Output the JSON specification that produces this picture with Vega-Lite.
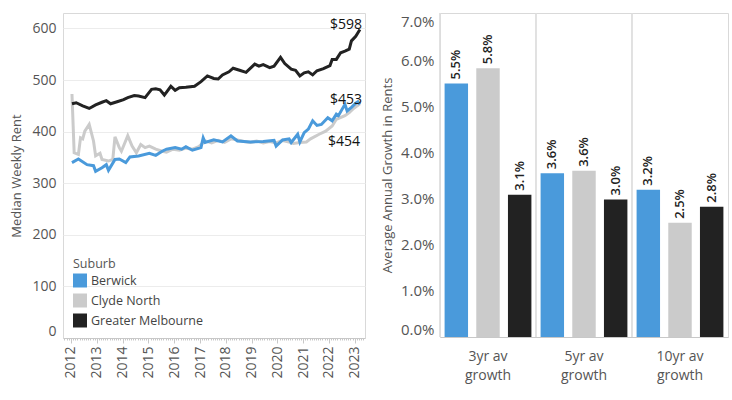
{
  "$schema": "https://vega.github.io/schema/vega-lite/v6.json",
  "padding": {"left": 10, "top": 12, "right": 5, "bottom": 5},
  "background": "white",
  "config": {
    "font": "Open Sans",
    "view": {"stroke": "#d9d9d9"},
    "axis": {"labelColor": "#555", "titleColor": "#555", "titleFontWeight": "normal"}
  },
  "resolve": {"legend": {"color": "independent"}},
  "datasets": {
    "rent": [
      {"suburb": "Berwick", "date": "2012-01-15", "rent": 340},
      {"suburb": "Berwick", "date": "2012-04-15", "rent": 347},
      {"suburb": "Berwick", "date": "2012-08-15", "rent": 336},
      {"suburb": "Berwick", "date": "2012-11-15", "rent": 334},
      {"suburb": "Berwick", "date": "2012-12-15", "rent": 323},
      {"suburb": "Berwick", "date": "2013-03-15", "rent": 330},
      {"suburb": "Berwick", "date": "2013-05-15", "rent": 336},
      {"suburb": "Berwick", "date": "2013-06-15", "rent": 325},
      {"suburb": "Berwick", "date": "2013-09-15", "rent": 346},
      {"suburb": "Berwick", "date": "2013-11-15", "rent": 347},
      {"suburb": "Berwick", "date": "2014-02-15", "rent": 340},
      {"suburb": "Berwick", "date": "2014-04-15", "rent": 351},
      {"suburb": "Berwick", "date": "2014-08-15", "rent": 353},
      {"suburb": "Berwick", "date": "2015-01-15", "rent": 358},
      {"suburb": "Berwick", "date": "2015-04-15", "rent": 354},
      {"suburb": "Berwick", "date": "2015-07-15", "rent": 362},
      {"suburb": "Berwick", "date": "2015-09-15", "rent": 366},
      {"suburb": "Berwick", "date": "2016-01-15", "rent": 369},
      {"suburb": "Berwick", "date": "2016-04-15", "rent": 366},
      {"suburb": "Berwick", "date": "2016-06-15", "rent": 371},
      {"suburb": "Berwick", "date": "2016-09-15", "rent": 364},
      {"suburb": "Berwick", "date": "2017-01-15", "rent": 369},
      {"suburb": "Berwick", "date": "2017-02-15", "rent": 388},
      {"suburb": "Berwick", "date": "2017-03-15", "rent": 379},
      {"suburb": "Berwick", "date": "2017-07-15", "rent": 384},
      {"suburb": "Berwick", "date": "2017-11-15", "rent": 380},
      {"suburb": "Berwick", "date": "2018-03-15", "rent": 392},
      {"suburb": "Berwick", "date": "2018-06-15", "rent": 382},
      {"suburb": "Berwick", "date": "2018-12-15", "rent": 380},
      {"suburb": "Berwick", "date": "2019-06-15", "rent": 381},
      {"suburb": "Berwick", "date": "2019-11-15", "rent": 383},
      {"suburb": "Berwick", "date": "2019-12-15", "rent": 372},
      {"suburb": "Berwick", "date": "2020-03-15", "rent": 384},
      {"suburb": "Berwick", "date": "2020-06-15", "rent": 386},
      {"suburb": "Berwick", "date": "2020-07-15", "rent": 379},
      {"suburb": "Berwick", "date": "2020-10-15", "rent": 395},
      {"suburb": "Berwick", "date": "2020-11-15", "rent": 380},
      {"suburb": "Berwick", "date": "2021-01-15", "rent": 398},
      {"suburb": "Berwick", "date": "2021-03-15", "rent": 405},
      {"suburb": "Berwick", "date": "2021-05-15", "rent": 421},
      {"suburb": "Berwick", "date": "2021-07-15", "rent": 412},
      {"suburb": "Berwick", "date": "2021-09-15", "rent": 414},
      {"suburb": "Berwick", "date": "2021-12-15", "rent": 427},
      {"suburb": "Berwick", "date": "2022-02-15", "rent": 421},
      {"suburb": "Berwick", "date": "2022-04-15", "rent": 434},
      {"suburb": "Berwick", "date": "2022-05-15", "rent": 431},
      {"suburb": "Berwick", "date": "2022-08-15", "rent": 453},
      {"suburb": "Berwick", "date": "2022-09-15", "rent": 440},
      {"suburb": "Berwick", "date": "2022-11-15", "rent": 447},
      {"suburb": "Berwick", "date": "2023-01-15", "rent": 455},
      {"suburb": "Berwick", "date": "2023-02-15", "rent": 458},
      {"suburb": "Berwick", "date": "2023-03-15", "rent": 453},
      {"suburb": "Clyde North", "date": "2012-01-15", "rent": 473},
      {"suburb": "Clyde North", "date": "2012-02-15", "rent": 359},
      {"suburb": "Clyde North", "date": "2012-04-15", "rent": 356},
      {"suburb": "Clyde North", "date": "2012-05-15", "rent": 388},
      {"suburb": "Clyde North", "date": "2012-06-15", "rent": 386},
      {"suburb": "Clyde North", "date": "2012-07-15", "rent": 401},
      {"suburb": "Clyde North", "date": "2012-09-15", "rent": 414},
      {"suburb": "Clyde North", "date": "2012-11-15", "rent": 382},
      {"suburb": "Clyde North", "date": "2012-12-15", "rent": 353},
      {"suburb": "Clyde North", "date": "2013-02-15", "rent": 358},
      {"suburb": "Clyde North", "date": "2013-03-15", "rent": 346},
      {"suburb": "Clyde North", "date": "2013-06-15", "rent": 343},
      {"suburb": "Clyde North", "date": "2013-08-15", "rent": 346},
      {"suburb": "Clyde North", "date": "2013-09-15", "rent": 390},
      {"suburb": "Clyde North", "date": "2013-11-15", "rent": 369},
      {"suburb": "Clyde North", "date": "2013-12-15", "rent": 362},
      {"suburb": "Clyde North", "date": "2014-03-15", "rent": 392},
      {"suburb": "Clyde North", "date": "2014-05-15", "rent": 372},
      {"suburb": "Clyde North", "date": "2014-07-15", "rent": 359},
      {"suburb": "Clyde North", "date": "2014-09-15", "rent": 375},
      {"suburb": "Clyde North", "date": "2014-11-15", "rent": 369},
      {"suburb": "Clyde North", "date": "2015-01-15", "rent": 372},
      {"suburb": "Clyde North", "date": "2015-04-15", "rent": 366},
      {"suburb": "Clyde North", "date": "2015-07-15", "rent": 362},
      {"suburb": "Clyde North", "date": "2015-09-15", "rent": 360},
      {"suburb": "Clyde North", "date": "2015-12-15", "rent": 366},
      {"suburb": "Clyde North", "date": "2016-03-15", "rent": 364},
      {"suburb": "Clyde North", "date": "2016-06-15", "rent": 368},
      {"suburb": "Clyde North", "date": "2016-09-15", "rent": 366},
      {"suburb": "Clyde North", "date": "2016-12-15", "rent": 371},
      {"suburb": "Clyde North", "date": "2017-03-15", "rent": 382},
      {"suburb": "Clyde North", "date": "2017-06-15", "rent": 378},
      {"suburb": "Clyde North", "date": "2017-09-15", "rent": 383},
      {"suburb": "Clyde North", "date": "2017-12-15", "rent": 379},
      {"suburb": "Clyde North", "date": "2018-03-15", "rent": 386},
      {"suburb": "Clyde North", "date": "2018-06-15", "rent": 384},
      {"suburb": "Clyde North", "date": "2018-09-15", "rent": 381},
      {"suburb": "Clyde North", "date": "2018-12-15", "rent": 379},
      {"suburb": "Clyde North", "date": "2019-03-15", "rent": 382},
      {"suburb": "Clyde North", "date": "2019-06-15", "rent": 378},
      {"suburb": "Clyde North", "date": "2019-09-15", "rent": 381},
      {"suburb": "Clyde North", "date": "2019-12-15", "rent": 378},
      {"suburb": "Clyde North", "date": "2020-03-15", "rent": 383},
      {"suburb": "Clyde North", "date": "2020-06-15", "rent": 380},
      {"suburb": "Clyde North", "date": "2020-08-15", "rent": 377},
      {"suburb": "Clyde North", "date": "2020-11-15", "rent": 379},
      {"suburb": "Clyde North", "date": "2021-02-15", "rent": 380},
      {"suburb": "Clyde North", "date": "2021-04-15", "rent": 386},
      {"suburb": "Clyde North", "date": "2021-08-15", "rent": 395},
      {"suburb": "Clyde North", "date": "2021-11-15", "rent": 401},
      {"suburb": "Clyde North", "date": "2022-02-15", "rent": 411},
      {"suburb": "Clyde North", "date": "2022-04-15", "rent": 424},
      {"suburb": "Clyde North", "date": "2022-08-15", "rent": 431},
      {"suburb": "Clyde North", "date": "2022-10-15", "rent": 437},
      {"suburb": "Clyde North", "date": "2022-12-15", "rent": 445},
      {"suburb": "Clyde North", "date": "2023-03-15", "rent": 454},
      {"suburb": "Greater Melbourne", "date": "2012-01-15", "rent": 454},
      {"suburb": "Greater Melbourne", "date": "2012-03-15", "rent": 456},
      {"suburb": "Greater Melbourne", "date": "2012-06-15", "rent": 450},
      {"suburb": "Greater Melbourne", "date": "2012-09-15", "rent": 445},
      {"suburb": "Greater Melbourne", "date": "2012-12-15", "rent": 452},
      {"suburb": "Greater Melbourne", "date": "2013-03-15", "rent": 457},
      {"suburb": "Greater Melbourne", "date": "2013-05-15", "rent": 460},
      {"suburb": "Greater Melbourne", "date": "2013-07-15", "rent": 454},
      {"suburb": "Greater Melbourne", "date": "2013-10-15", "rent": 458},
      {"suburb": "Greater Melbourne", "date": "2014-01-15", "rent": 462},
      {"suburb": "Greater Melbourne", "date": "2014-03-15", "rent": 466},
      {"suburb": "Greater Melbourne", "date": "2014-06-15", "rent": 470},
      {"suburb": "Greater Melbourne", "date": "2014-08-15", "rent": 469},
      {"suburb": "Greater Melbourne", "date": "2014-11-15", "rent": 466},
      {"suburb": "Greater Melbourne", "date": "2015-02-15", "rent": 482},
      {"suburb": "Greater Melbourne", "date": "2015-04-15", "rent": 483},
      {"suburb": "Greater Melbourne", "date": "2015-06-15", "rent": 481},
      {"suburb": "Greater Melbourne", "date": "2015-08-15", "rent": 471},
      {"suburb": "Greater Melbourne", "date": "2015-11-15", "rent": 488},
      {"suburb": "Greater Melbourne", "date": "2016-01-15", "rent": 480},
      {"suburb": "Greater Melbourne", "date": "2016-03-15", "rent": 485},
      {"suburb": "Greater Melbourne", "date": "2016-06-15", "rent": 486},
      {"suburb": "Greater Melbourne", "date": "2016-10-15", "rent": 488},
      {"suburb": "Greater Melbourne", "date": "2017-01-15", "rent": 497},
      {"suburb": "Greater Melbourne", "date": "2017-04-15", "rent": 508},
      {"suburb": "Greater Melbourne", "date": "2017-07-15", "rent": 503},
      {"suburb": "Greater Melbourne", "date": "2017-09-15", "rent": 502},
      {"suburb": "Greater Melbourne", "date": "2017-11-15", "rent": 510},
      {"suburb": "Greater Melbourne", "date": "2018-02-15", "rent": 516},
      {"suburb": "Greater Melbourne", "date": "2018-04-15", "rent": 523},
      {"suburb": "Greater Melbourne", "date": "2018-07-15", "rent": 519},
      {"suburb": "Greater Melbourne", "date": "2018-10-15", "rent": 515},
      {"suburb": "Greater Melbourne", "date": "2019-02-15", "rent": 531},
      {"suburb": "Greater Melbourne", "date": "2019-04-15", "rent": 527},
      {"suburb": "Greater Melbourne", "date": "2019-06-15", "rent": 530},
      {"suburb": "Greater Melbourne", "date": "2019-09-15", "rent": 524},
      {"suburb": "Greater Melbourne", "date": "2019-11-15", "rent": 527},
      {"suburb": "Greater Melbourne", "date": "2020-02-15", "rent": 544},
      {"suburb": "Greater Melbourne", "date": "2020-04-15", "rent": 532},
      {"suburb": "Greater Melbourne", "date": "2020-07-15", "rent": 521},
      {"suburb": "Greater Melbourne", "date": "2020-09-15", "rent": 519},
      {"suburb": "Greater Melbourne", "date": "2020-11-15", "rent": 508},
      {"suburb": "Greater Melbourne", "date": "2021-01-15", "rent": 514},
      {"suburb": "Greater Melbourne", "date": "2021-03-15", "rent": 516},
      {"suburb": "Greater Melbourne", "date": "2021-05-15", "rent": 510},
      {"suburb": "Greater Melbourne", "date": "2021-07-15", "rent": 518},
      {"suburb": "Greater Melbourne", "date": "2021-10-15", "rent": 522},
      {"suburb": "Greater Melbourne", "date": "2022-01-15", "rent": 528},
      {"suburb": "Greater Melbourne", "date": "2022-02-15", "rent": 540},
      {"suburb": "Greater Melbourne", "date": "2022-04-15", "rent": 540},
      {"suburb": "Greater Melbourne", "date": "2022-06-15", "rent": 553},
      {"suburb": "Greater Melbourne", "date": "2022-08-15", "rent": 556},
      {"suburb": "Greater Melbourne", "date": "2022-10-15", "rent": 560},
      {"suburb": "Greater Melbourne", "date": "2022-11-15", "rent": 576},
      {"suburb": "Greater Melbourne", "date": "2023-01-15", "rent": 585},
      {"suburb": "Greater Melbourne", "date": "2023-03-15", "rent": 598}
    ],
    "growth": [
      {"period": "3yr av growth", "suburb": "Berwick", "growth": 0.0551},
      {"period": "3yr av growth", "suburb": "Clyde North", "growth": 0.0584},
      {"period": "3yr av growth", "suburb": "Greater Melbourne", "growth": 0.0309},
      {"period": "5yr av growth", "suburb": "Berwick", "growth": 0.0356},
      {"period": "5yr av growth", "suburb": "Clyde North", "growth": 0.0361},
      {"period": "5yr av growth", "suburb": "Greater Melbourne", "growth": 0.0299},
      {"period": "10yr av growth", "suburb": "Berwick", "growth": 0.032},
      {"period": "10yr av growth", "suburb": "Clyde North", "growth": 0.0248},
      {"period": "10yr av growth", "suburb": "Greater Melbourne", "growth": 0.0283}
    ]
  },
  "spacing": 10,
  "hconcat": [
    {
      "width": 302,
      "height": 325,
      "data": {"name": "rent", "format": {"parse": {"date": "date"}}},
      "encoding": {
        "x": {
          "field": "date", "type": "temporal",
          "scale": {"type": "utc", "domain": [{"year": 2011, "month": 9, "date": 10, "utc": true}, {"year": 2023, "month": 5, "date": 26, "utc": true}]},
          "axis": {
            "title": null, "grid": false, "labelAngle": 270, "labelFontSize": 14,
            "tickCount": {"interval": "month", "step": 1},
            "labelExpr": "utcmonth(datum.value) == 0 ? utcFormat(datum.value, '%Y') : ''",
            "tickSize": {"condition": {"test": "utcmonth(datum.value) == 0", "value": 5}, "value": 2},
            "tickColor": "#c8c8c8", "domainColor": "#c8c8c8",
            "labelOverlap": false, "labelBound": false, "labelPadding": 3
          }
        },
        "y": {
          "field": "rent", "type": "quantitative",
          "scale": {"domain": [0, 630], "nice": false},
          "axis": {
            "title": "Median Weekly Rent", "titleFontSize": 13, "titlePadding": 8,
            "values": [0, 100, 200, 300, 400, 500, 600], "labelFontSize": 14,
            "ticks": false, "domain": false, "gridColor": "#ececec", "labelPadding": 7, "labelFlush": true
          }
        },
        "color": {
          "field": "suburb", "type": "nominal",
          "scale": {"domain": ["Berwick", "Clyde North", "Greater Melbourne"], "range": ["#4A9ADB", "#CBCBCB", "#222222"]},
          "legend": {
            "orient": "bottom-left", "offset": 10, "title": "Suburb",
            "titleFontSize": 12.5, "titleFontWeight": "normal", "titleColor": "#555",
            "labelFontSize": 12.5, "labelColor": "#444", "symbolType": "square", "symbolSize": 196,
            "symbolStrokeWidth": 0, "rowPadding": 6, "titlePadding": 3,
            "encode": {"symbols": {"update": {"fill": {"scale": "color", "field": "value"}, "strokeWidth": {"value": 0}}}}
          }
        }
      },
      "layer": [
        {"transform": [{"filter": "datum.suburb == 'Clyde North'"}], "mark": {"type": "line", "strokeWidth": 3}},
        {"transform": [{"filter": "datum.suburb == 'Berwick'"}], "mark": {"type": "line", "strokeWidth": 3}},
        {"transform": [{"filter": "datum.suburb == 'Greater Melbourne'"}], "mark": {"type": "line", "strokeWidth": 3}},
        {
          "transform": [
            {"filter": "datum.suburb == 'Greater Melbourne'"},
            {"window": [{"op": "row_number", "as": "rk"}], "sort": [{"field": "date", "order": "descending"}]},
            {"filter": "datum.rk == 1"}
          ],
          "mark": {"type": "text", "align": "right", "baseline": "middle", "dx": 2, "dy": -5, "fontSize": 14},
          "encoding": {"text": {"field": "rent", "format": "$.0f"}, "color": {"value": "#111111"}}
        },
        {
          "transform": [
            {"filter": "datum.suburb == 'Berwick'"},
            {"window": [{"op": "row_number", "as": "rk"}], "sort": [{"field": "date", "order": "descending"}]},
            {"filter": "datum.rk == 1"}
          ],
          "mark": {"type": "text", "align": "right", "baseline": "middle", "dx": 2, "dy": -4, "fontSize": 14},
          "encoding": {"text": {"field": "rent", "format": "$.0f"}, "color": {"value": "#111111"}}
        },
        {
          "transform": [
            {"filter": "datum.suburb == 'Clyde North'"},
            {"window": [{"op": "row_number", "as": "rk"}], "sort": [{"field": "date", "order": "descending"}]},
            {"filter": "datum.rk == 1"}
          ],
          "mark": {"type": "text", "align": "right", "baseline": "middle", "dx": 0, "dy": 38, "fontSize": 14},
          "encoding": {"text": {"field": "rent", "format": "$.0f"}, "color": {"value": "#111111"}}
        }
      ]
    },
    {
      "width": 288,
      "height": 324,
      "data": {"name": "growth"},
      "encoding": {
        "x": {
          "field": "period", "type": "nominal",
          "sort": ["3yr av growth", "5yr av growth", "10yr av growth"],
          "scale": {"paddingInner": 0, "paddingOuter": 0},
          "axis": {
            "title": null, "labelAngle": 0, "ticks": false, "grid": false,
            "labelFontSize": 14, "labelLineHeight": 19, "labelPadding": 12,
            "domainColor": "#c8c8c8",
            "labelExpr": "[replace(datum.label, ' growth', ''), 'growth']"
          }
        },
        "y": {
          "field": "growth", "type": "quantitative",
          "scale": {"domain": [0, 0.0704], "nice": false},
          "axis": {
            "title": "Average Annual Growth in Rents", "titleFontSize": 13, "titlePadding": 6,
            "values": [0, 0.01, 0.02, 0.03, 0.04, 0.05, 0.06, 0.07], "format": ".1%",
            "labelFontSize": 15, "grid": false, "ticks": false, "domain": false,
            "labelPadding": 6, "labelFlush": 2
          }
        }
      },
      "layer": [
        {
          "mark": {"type": "rule", "color": "#dddddd", "strokeWidth": 1},
          "encoding": {"x": {"field": "period", "type": "nominal", "sort": ["3yr av growth", "5yr av growth", "10yr av growth"], "bandPosition": 0}, "y": null}
        },
        {
          "mark": {"type": "bar"},
          "encoding": {
            "xOffset": {"field": "suburb", "type": "nominal", "sort": ["Berwick", "Clyde North", "Greater Melbourne"], "scale": {"paddingInner": 0.26, "paddingOuter": 0.145}},
            "color": {"field": "suburb", "type": "nominal", "scale": {"domain": ["Berwick", "Clyde North", "Greater Melbourne"], "range": ["#4A9ADB", "#CBCBCB", "#222222"]}, "legend": null}
          }
        },
        {
          "mark": {"type": "text", "angle": 270, "align": "left", "baseline": "middle", "dx": 4, "fontSize": 13, "fontWeight": 600, "color": "#222222"},
          "encoding": {
            "xOffset": {"field": "suburb", "type": "nominal", "sort": ["Berwick", "Clyde North", "Greater Melbourne"], "scale": {"paddingInner": 0.26, "paddingOuter": 0.145}},
            "text": {"field": "growth", "format": ".1%"}
          }
        }
      ]
    }
  ]
}
